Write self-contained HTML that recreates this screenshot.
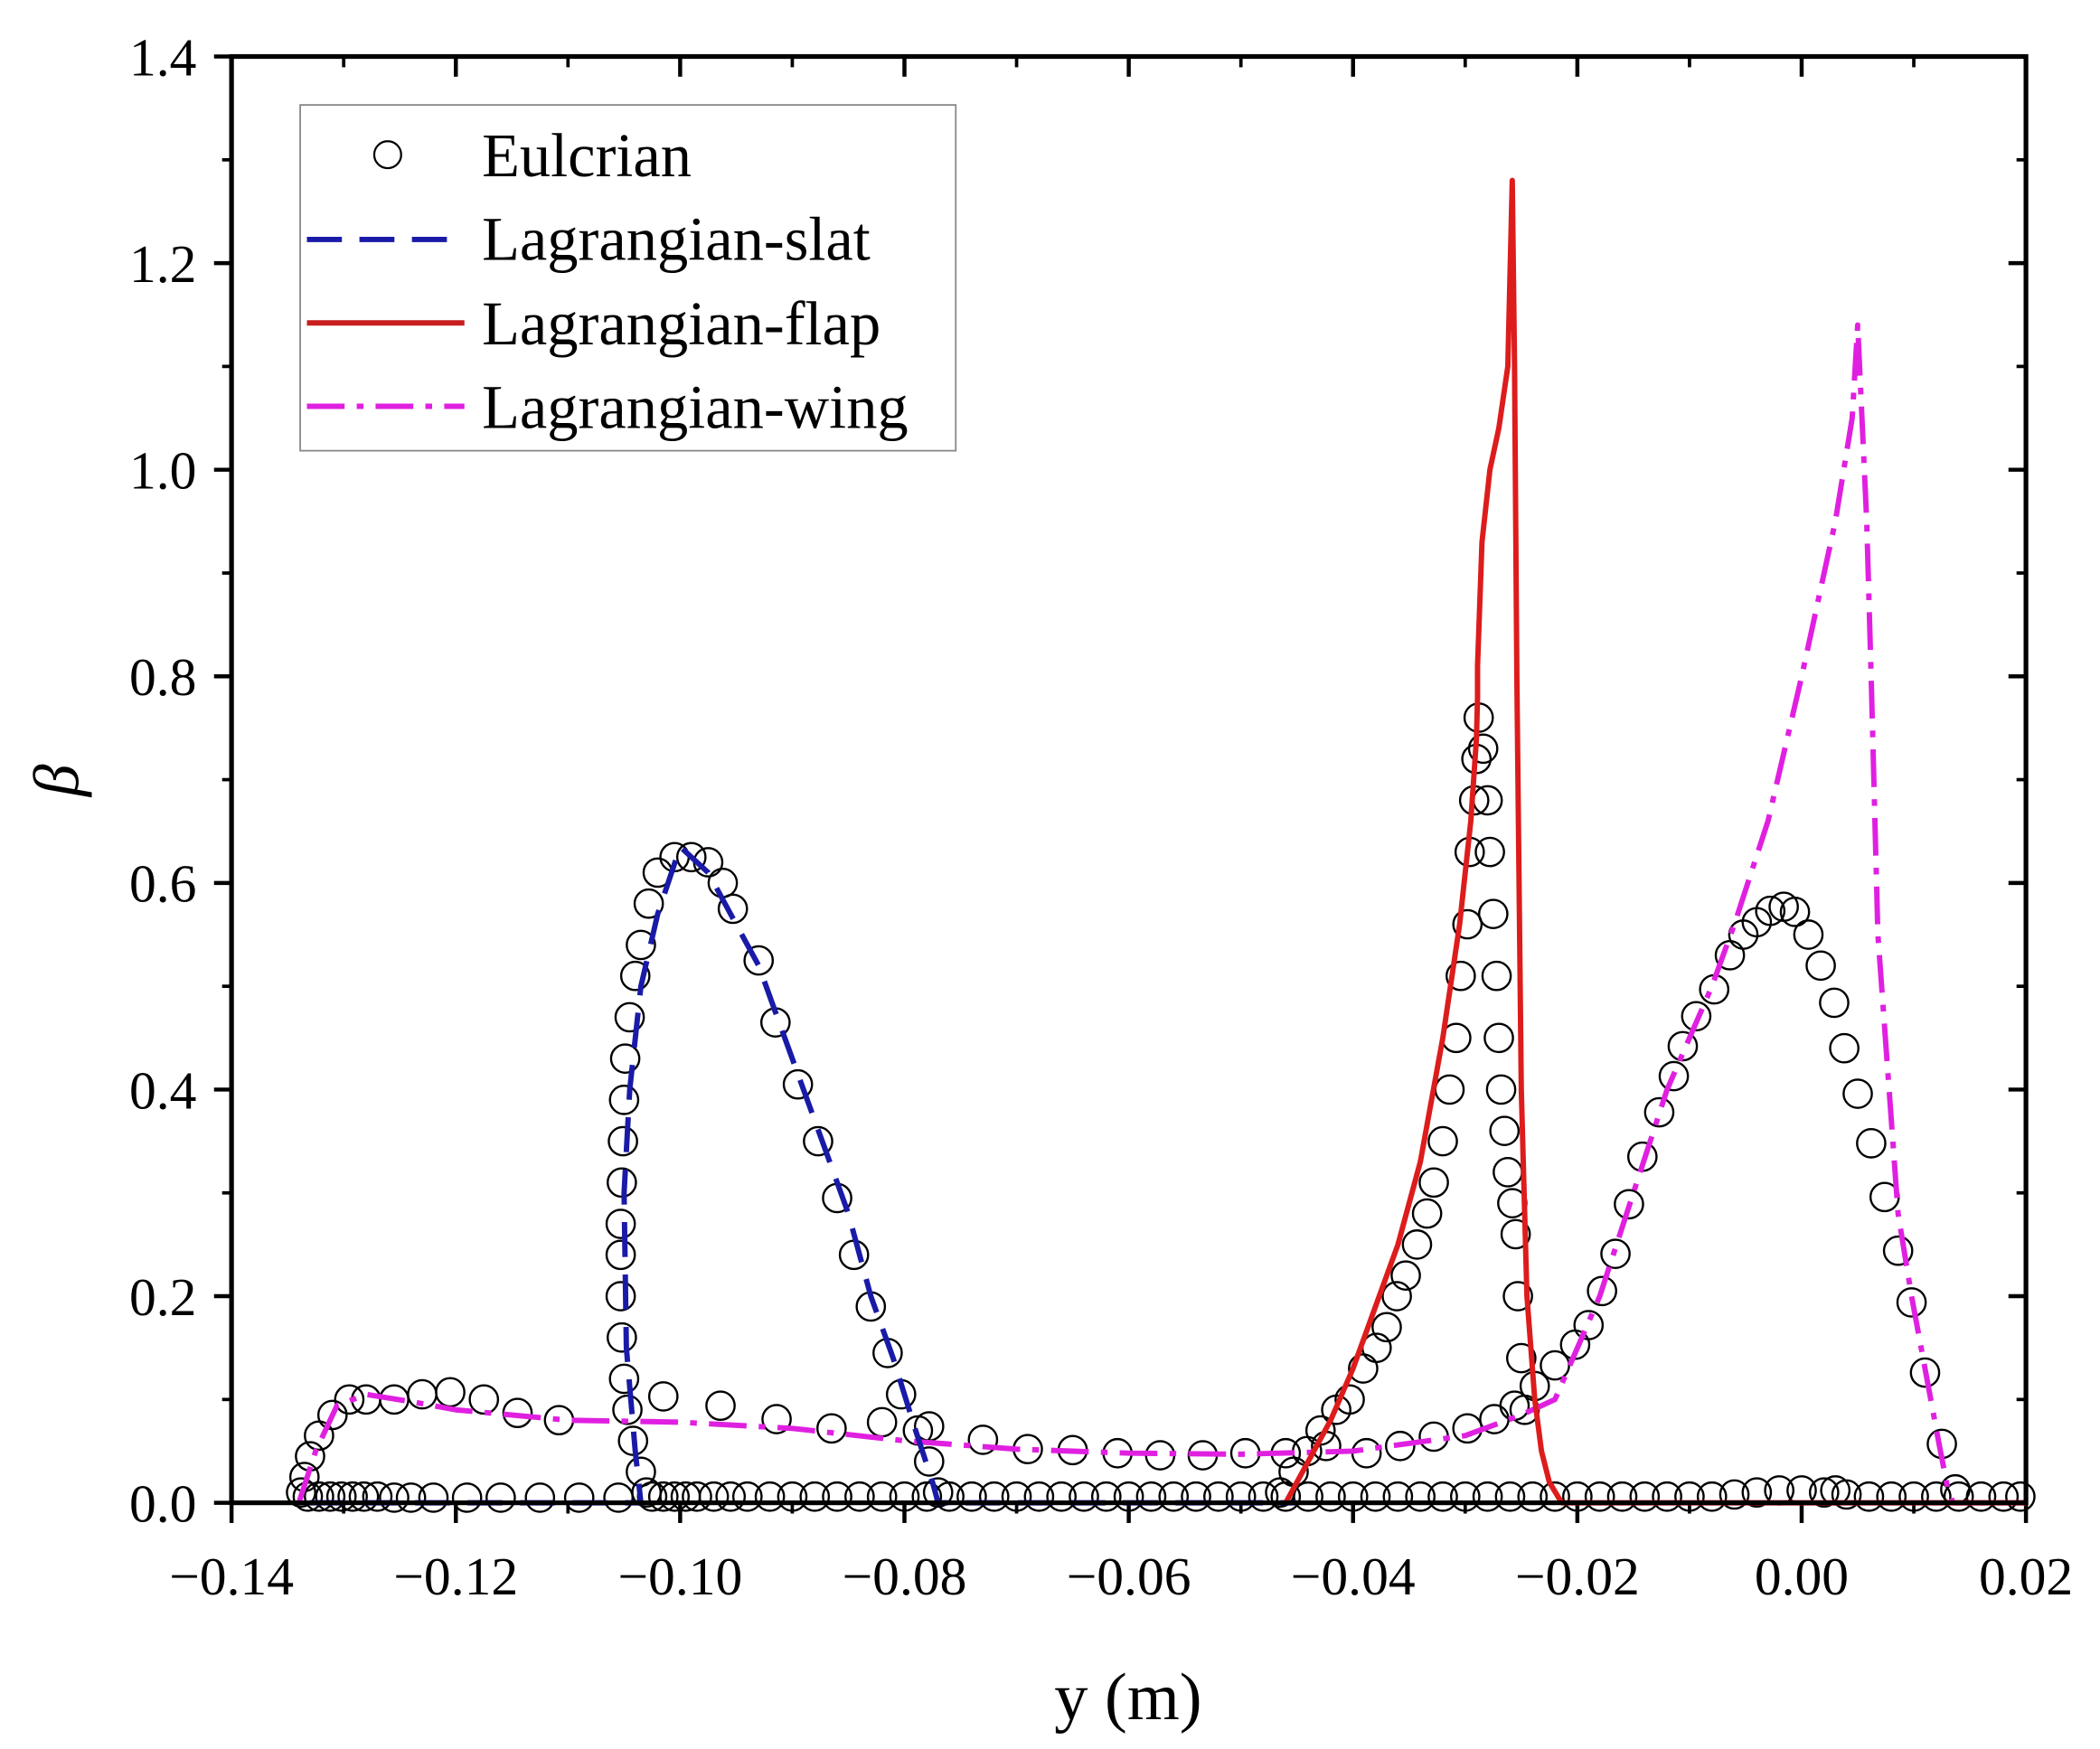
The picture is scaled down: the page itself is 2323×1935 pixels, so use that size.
<!DOCTYPE html>
<html><head><meta charset="utf-8"><style>
html,body{margin:0;padding:0;background:#fff;}
svg{display:block;}
text{font-family:"Liberation Serif","Times New Roman",serif;fill:#000;}
</style></head><body>
<svg id="chart" width="2323" height="1935" viewBox="0 0 1560 1300" preserveAspectRatio="none" xmlns="http://www.w3.org/2000/svg">
<rect x="0" y="0" width="1560" height="1300" fill="#fff"/>
<g id="ticks"></g>
<g id="marks"></g>
<rect x="172" y="42" width="1333" height="1075" fill="none" stroke="#000" stroke-width="3.5"/>
<g id="labels"></g>
<text x="838" y="1278" font-size="50" text-anchor="middle">y (m)</text>
<text x="0" y="0" font-size="48" font-style="italic" text-anchor="middle" transform="translate(58,580) rotate(-90)">β</text>
<g>
<rect x="223" y="78" width="487" height="257" fill="#fff" stroke="#888" stroke-width="1.2"/>
<circle cx="288" cy="115" r="10" fill="none" stroke="#000" stroke-width="1.5"/>
<text x="358" y="131" font-size="46">Eulcrian</text>
<line x1="228" y1="178" x2="345" y2="178" stroke="#1a1aa8" stroke-width="4" stroke-dasharray="26 13"/>
<text x="358" y="193" font-size="46">Lagrangian-slat</text>
<line x1="228" y1="240" x2="345" y2="240" stroke="#c81e1e" stroke-width="4"/>
<text x="358" y="256" font-size="46">Lagrangian-flap</text>
<line x1="228" y1="302" x2="345" y2="302" stroke="#e020e0" stroke-width="4" stroke-dasharray="28 9 5 9"/>
<text x="358" y="318" font-size="46">Lagrangian-wing</text>
</g>
</svg>
<script>
const xTicks=[-0.14,-0.12,-0.10,-0.08,-0.06,-0.04,-0.02,0.00,0.02];
const xTickLabels=["\u22120.14","\u22120.12","\u22120.10","\u22120.08","\u22120.06","\u22120.04","\u22120.02","0.00","0.02"];
const yTicks=[0,0.2,0.4,0.6,0.8,1.0,1.2,1.4];
const yTickLabels=["0.0","0.2","0.4","0.6","0.8","1.0","1.2","1.4"];

const slatX=[-0.133,-0.1035,-0.104,-0.1048,-0.105,-0.1045,-0.1035,-0.102,-0.100,-0.0975,-0.0955,-0.093,-0.091,-0.089,-0.087,-0.085,-0.083,-0.081,-0.079,-0.0775,-0.077,-0.045];
const slatY=[0,0,0.05,0.15,0.30,0.40,0.50,0.57,0.635,0.61,0.57,0.52,0.46,0.40,0.34,0.28,0.20,0.14,0.07,0.02,0,0];
const flapX=[-0.046,-0.044,-0.042,-0.040,-0.038,-0.036,-0.034,-0.032,-0.0305,-0.0295,-0.029,-0.0289,-0.0289,-0.0285,-0.0278,-0.027,-0.0262,-0.0258,-0.0256,-0.0254,-0.025,-0.0245,-0.0238,-0.0232,-0.0225,-0.0214,0.02];
const flapY=[0,0.04,0.08,0.13,0.19,0.25,0.33,0.45,0.56,0.66,0.74,0.78,0.81,0.93,1.00,1.04,1.10,1.28,1.10,0.80,0.40,0.20,0.10,0.05,0.02,0,0];
const wingX=[-0.134,-0.1325,-0.1306,-0.128,-0.124,-0.12,-0.11,-0.10,-0.09,-0.08,-0.07,-0.06,-0.05,-0.04,-0.03,-0.025,-0.022,-0.020,-0.018,-0.015,-0.012,-0.008,-0.006,-0.003,0.000,0.003,0.0045,0.005,0.0058,0.0062,0.0068,0.0074,0.0086,0.0098,0.011,0.0122,0.013,0.0135,0.02];
const wingY=[0,0.05,0.094,0.105,0.098,0.09,0.08,0.078,0.072,0.06,0.052,0.048,0.047,0.05,0.065,0.085,0.10,0.15,0.20,0.30,0.40,0.50,0.56,0.66,0.80,0.95,1.05,1.14,0.95,0.80,0.55,0.46,0.28,0.20,0.13,0.06,0.015,0,0];

const eulSlatX=[-0.103,-0.1035,-0.1042,-0.1047,-0.105,-0.1052,-0.1053,-0.1053,-0.1053,-0.1052,-0.1051,-0.105,-0.1049,-0.1045,-0.104,-0.1035,-0.1028,-0.102,-0.1005,-0.099,-0.0975,-0.0962,-0.0953,-0.093,-0.0915,-0.0895,-0.0877,-0.086,-0.0845,-0.083,-0.0815,-0.0803,-0.0788,-0.0778,-0.077];
const eulSlatY=[0.01,0.03,0.06,0.09,0.12,0.16,0.20,0.24,0.27,0.31,0.35,0.39,0.43,0.47,0.51,0.54,0.58,0.61,0.625,0.625,0.62,0.60,0.575,0.525,0.465,0.405,0.35,0.295,0.24,0.19,0.145,0.105,0.07,0.04,0.01];
const eulFlapX=[-0.0465,-0.0453,-0.0441,-0.0429,-0.0415,-0.0403,-0.0391,-0.0379,-0.037,-0.0361,-0.0353,-0.0343,-0.0334,-0.0328,-0.032,-0.0314,-0.0308,-0.0304,-0.0298,-0.0296,-0.0292,-0.029,-0.0288,-0.0284,-0.028,-0.0278,-0.0275,-0.0272,-0.027,-0.0268,-0.0265,-0.0262,-0.0258,-0.0255,-0.0253,-0.025,-0.0247];
const eulFlapY=[0.01,0.03,0.05,0.07,0.09,0.10,0.13,0.15,0.17,0.20,0.22,0.25,0.28,0.31,0.35,0.40,0.45,0.51,0.56,0.63,0.68,0.72,0.76,0.73,0.68,0.63,0.57,0.51,0.45,0.40,0.36,0.32,0.29,0.26,0.20,0.14,0.09];
const eulWingX=[-0.1338,-0.1335,-0.133,-0.1322,-0.131,-0.1295,-0.128,-0.1255,-0.123,-0.1205,-0.1175,-0.1145,-0.1108,-0.1015,-0.0964,-0.0914,-0.0865,-0.082,-0.0778,-0.073,-0.069,-0.065,-0.061,-0.0572,-0.0534,-0.0496,-0.046,-0.0424,-0.0388,-0.0358,-0.0328,-0.0298,-0.0274,-0.0256,-0.0238,-0.022,-0.0202,-0.019,-0.0178,-0.0166,-0.0154,-0.0142,-0.0127,-0.0114,-0.0106,-0.0094,-0.0078,-0.0064,-0.0052,-0.004,-0.0028,-0.0016,-0.0006,0.0006,0.0017,0.0029,0.0038,0.005,0.0062,0.0074,0.0086,0.0098,0.011,0.0125,0.0137];
const eulWingY=[0.01,0.025,0.045,0.065,0.085,0.10,0.10,0.10,0.105,0.107,0.10,0.087,0.08,0.103,0.094,0.081,0.072,0.078,0.074,0.061,0.052,0.051,0.048,0.046,0.046,0.048,0.048,0.055,0.048,0.055,0.064,0.072,0.081,0.094,0.113,0.133,0.153,0.172,0.205,0.241,0.289,0.335,0.378,0.413,0.442,0.471,0.497,0.53,0.55,0.562,0.573,0.577,0.572,0.55,0.52,0.484,0.44,0.396,0.348,0.296,0.244,0.194,0.126,0.057,0.013];
const eulBaseX=[-0.1332,-0.1322,-0.1312,-0.1302,-0.1292,-0.1282,-0.127,-0.1255,-0.124,-0.122,-0.119,-0.116,-0.1125,-0.109,-0.1055,-0.1025,-0.1015,-0.1005,-0.0995,-0.0985,-0.097,-0.0955,-0.094,-0.092,-0.090,-0.088,-0.086,-0.084,-0.082,-0.080,-0.078,-0.076,-0.074,-0.072,-0.070,-0.068,-0.066,-0.064,-0.062,-0.060,-0.058,-0.056,-0.054,-0.052,-0.050,-0.048,-0.046,-0.044,-0.042,-0.040,-0.038,-0.036,-0.034,-0.032,-0.030,-0.028,-0.026,-0.024,-0.022,-0.020,-0.018,-0.016,-0.014,-0.012,-0.010,-0.008,-0.006,-0.004,-0.002,0.000,0.002,0.003,0.004,0.006,0.008,0.010,0.012,0.014,0.016,0.018,0.0195];
const eulBaseY=[0.006,0.006,0.006,0.006,0.006,0.006,0.006,0.005,0.005,0.005,0.005,0.005,0.005,0.005,0.005,0.006,0.006,0.006,0.006,0.006,0.006,0.006,0.006,0.006,0.006,0.006,0.006,0.006,0.006,0.006,0.006,0.006,0.006,0.006,0.006,0.006,0.006,0.006,0.006,0.006,0.006,0.006,0.006,0.006,0.006,0.006,0.006,0.006,0.006,0.006,0.006,0.006,0.006,0.006,0.006,0.006,0.006,0.006,0.006,0.006,0.006,0.006,0.006,0.006,0.006,0.006,0.008,0.01,0.012,0.012,0.01,0.012,0.008,0.006,0.006,0.006,0.006,0.006,0.006,0.006,0.006];

const NS="http://www.w3.org/2000/svg";
const X0=172,X1=1505,Y0=1117,Y1=42;
function sx(v){return X0+(v-(-0.14))/(0.16)*(X1-X0);}
function sy(v){return Y0-(v/1.4)*(Y0-Y1);}
function mk(tag,attrs,parent){const e=document.createElementNS(NS,tag);for(const k in attrs)e.setAttribute(k,attrs[k]);parent.appendChild(e);return e;}
const ticksG=document.getElementById('ticks'),labelsG=document.getElementById('labels'),marksG=document.getElementById('marks');

xTicks.forEach((t,i)=>{
  const x=sx(t);
  const a=mk('line',{x1:x,y1:Y0,x2:x,y2:Y0+15,stroke:'#000','stroke-width':3},ticksG);
  
  
  const b=mk('line',{x1:x,y1:Y1,x2:x,y2:Y1+15,stroke:'#000','stroke-width':3},ticksG);
  
  
  if(i<xTicks.length-1){const xm=sx(t+0.01);
    const c=mk('line',{x1:xm,y1:Y0,x2:xm,y2:Y0+8,stroke:'#000','stroke-width':2.5},ticksG);
    
    
    const d=mk('line',{x1:xm,y1:Y1,x2:xm,y2:Y1+8,stroke:'#000','stroke-width':2.5},ticksG);
    
    }
  const tx=mk('text',{x:x,y:1185,'font-size':40,'text-anchor':'middle'},labelsG);
  tx.textContent=xTickLabels[i];
  
  
});
yTicks.forEach((t,i)=>{
  const y=sy(t);
  const a=mk('line',{x1:X0-13,y1:y,x2:X0,y2:y,stroke:'#000','stroke-width':3},ticksG);
  
  
  const b=mk('line',{x1:X1-13,y1:y,x2:X1,y2:y,stroke:'#000','stroke-width':3},ticksG);
  
  
  if(i<yTicks.length-1){const ym=sy(t+0.1);
    const c=mk('line',{x1:X0-7,y1:ym,x2:X0,y2:ym,stroke:'#000','stroke-width':2.5},ticksG);
    
    
    const d=mk('line',{x1:X1-7,y1:ym,x2:X1,y2:ym,stroke:'#000','stroke-width':2.5},ticksG);
    
    }
  const tx=mk('text',{x:146,y:y+14,'font-size':40,'text-anchor':'end'},labelsG);
  tx.textContent=yTickLabels[i];
  
  
});

function circles(xs,ys,name){xs.forEach((v,i)=>{
  const c=mk('circle',{cx:sx(v),cy:sy(ys[i]),r:10.5,fill:'none',stroke:'#000','stroke-width':1.6},marksG);
  
  
});}
circles(eulBaseX,eulBaseY,'eulerian-point-base');
circles(eulWingX,eulWingY,'eulerian-point-wing');
circles(eulSlatX,eulSlatY,'eulerian-point-slat');
circles(eulFlapX,eulFlapY,'eulerian-point-flap');

function line(xs,ys,color,dash,name){
  const d=xs.map((v,i)=>(i?'L':'M')+sx(v).toFixed(1)+','+sy(ys[i]).toFixed(1)).join('');
  const p=mk('path',{d:d,fill:'none',stroke:color,'stroke-width':4,'stroke-linejoin':'round'},marksG);
  if(dash)p.setAttribute('stroke-dasharray',dash);
  
  
}
line(wingX,wingY,'#e020e0','28 9 5 9','wing-line');
line(slatX,slatY,'#1a1aa8','26 13','slat-line');
line(flapX,flapY,'#dd1c1c',null,'flap-line');
</script>
</body></html>
